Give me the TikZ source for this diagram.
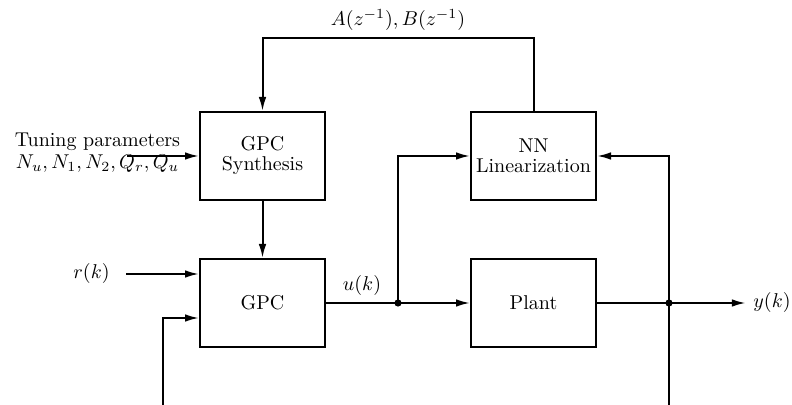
\documentclass[tikz,border=0pt]{standalone}
\usetikzlibrary{arrows.meta}
\begin{document}
\begin{tikzpicture}[x=5pt,y=-5pt,line width=1pt,
  block/.style={draw,minimum width=62.5pt,minimum height=44pt,align=center,inner sep=1pt},
  sig/.style={-{Latex[length=7pt,width=3.8pt]}},
  dot/.style={circle,fill,inner sep=0pt,minimum size=3.6pt}]
\useasboundingbox (0,0) rectangle (79.2,40.5);

\node[block] (syn) at (26.25,15.6) {GPC\\[-2pt]Synthesis};
\node[block] (gpc) at (26.25,30.3) {GPC};
\node[block] (nn) at (53.35,15.6) {NN\\[-2pt]Linearization};
\node[block] (plant) at (53.35,30.3) {Plant};

\node[dot] (ju) at (39.8,30.3) {};
\node[dot] (jy) at (66.9,30.3) {};

\node[align=center] (tune) at (9.75,15.3) {Tuning parameters\\[-1pt]$N_u,N_1,N_2,Q_r,Q_u$};
\node (r) at (9.15,27.4) {$r(k)$};
\node (y) at (77.2,30.3) {$y(k)$};
\coordinate (tin) at (12.7,15.6);
\coordinate (rin) at (12.6,27.4);
\coordinate (fb) at (16.3,40.5);
\coordinate (yb) at (66.9,40.5);

\draw[sig] (tin) -- (syn.west);
\draw[sig] (syn) -- (gpc);
\draw[sig] (rin) -- (gpc.west |- rin);
\draw[sig] (fb) |- ([yshift=-7.5pt]gpc.west);
\draw (gpc.east) -- node[above] {$u(k)$} (ju.center);
\draw[sig] (ju.center) -- (plant.west);
\draw[sig] (ju.center) |- (nn.west);
\draw (plant.east) -- (jy.center);
\draw[sig] (jy.center) -- (y);
\draw[sig] (jy.center) |- (nn.east);
\draw (yb) -- (jy.center);
\draw[sig] (nn.north) -- ++(0,-7.3) -| node[pos=0.25,above] {$A(z^{-1}),B(z^{-1})$} (syn.north);
\end{tikzpicture}
\end{document}
